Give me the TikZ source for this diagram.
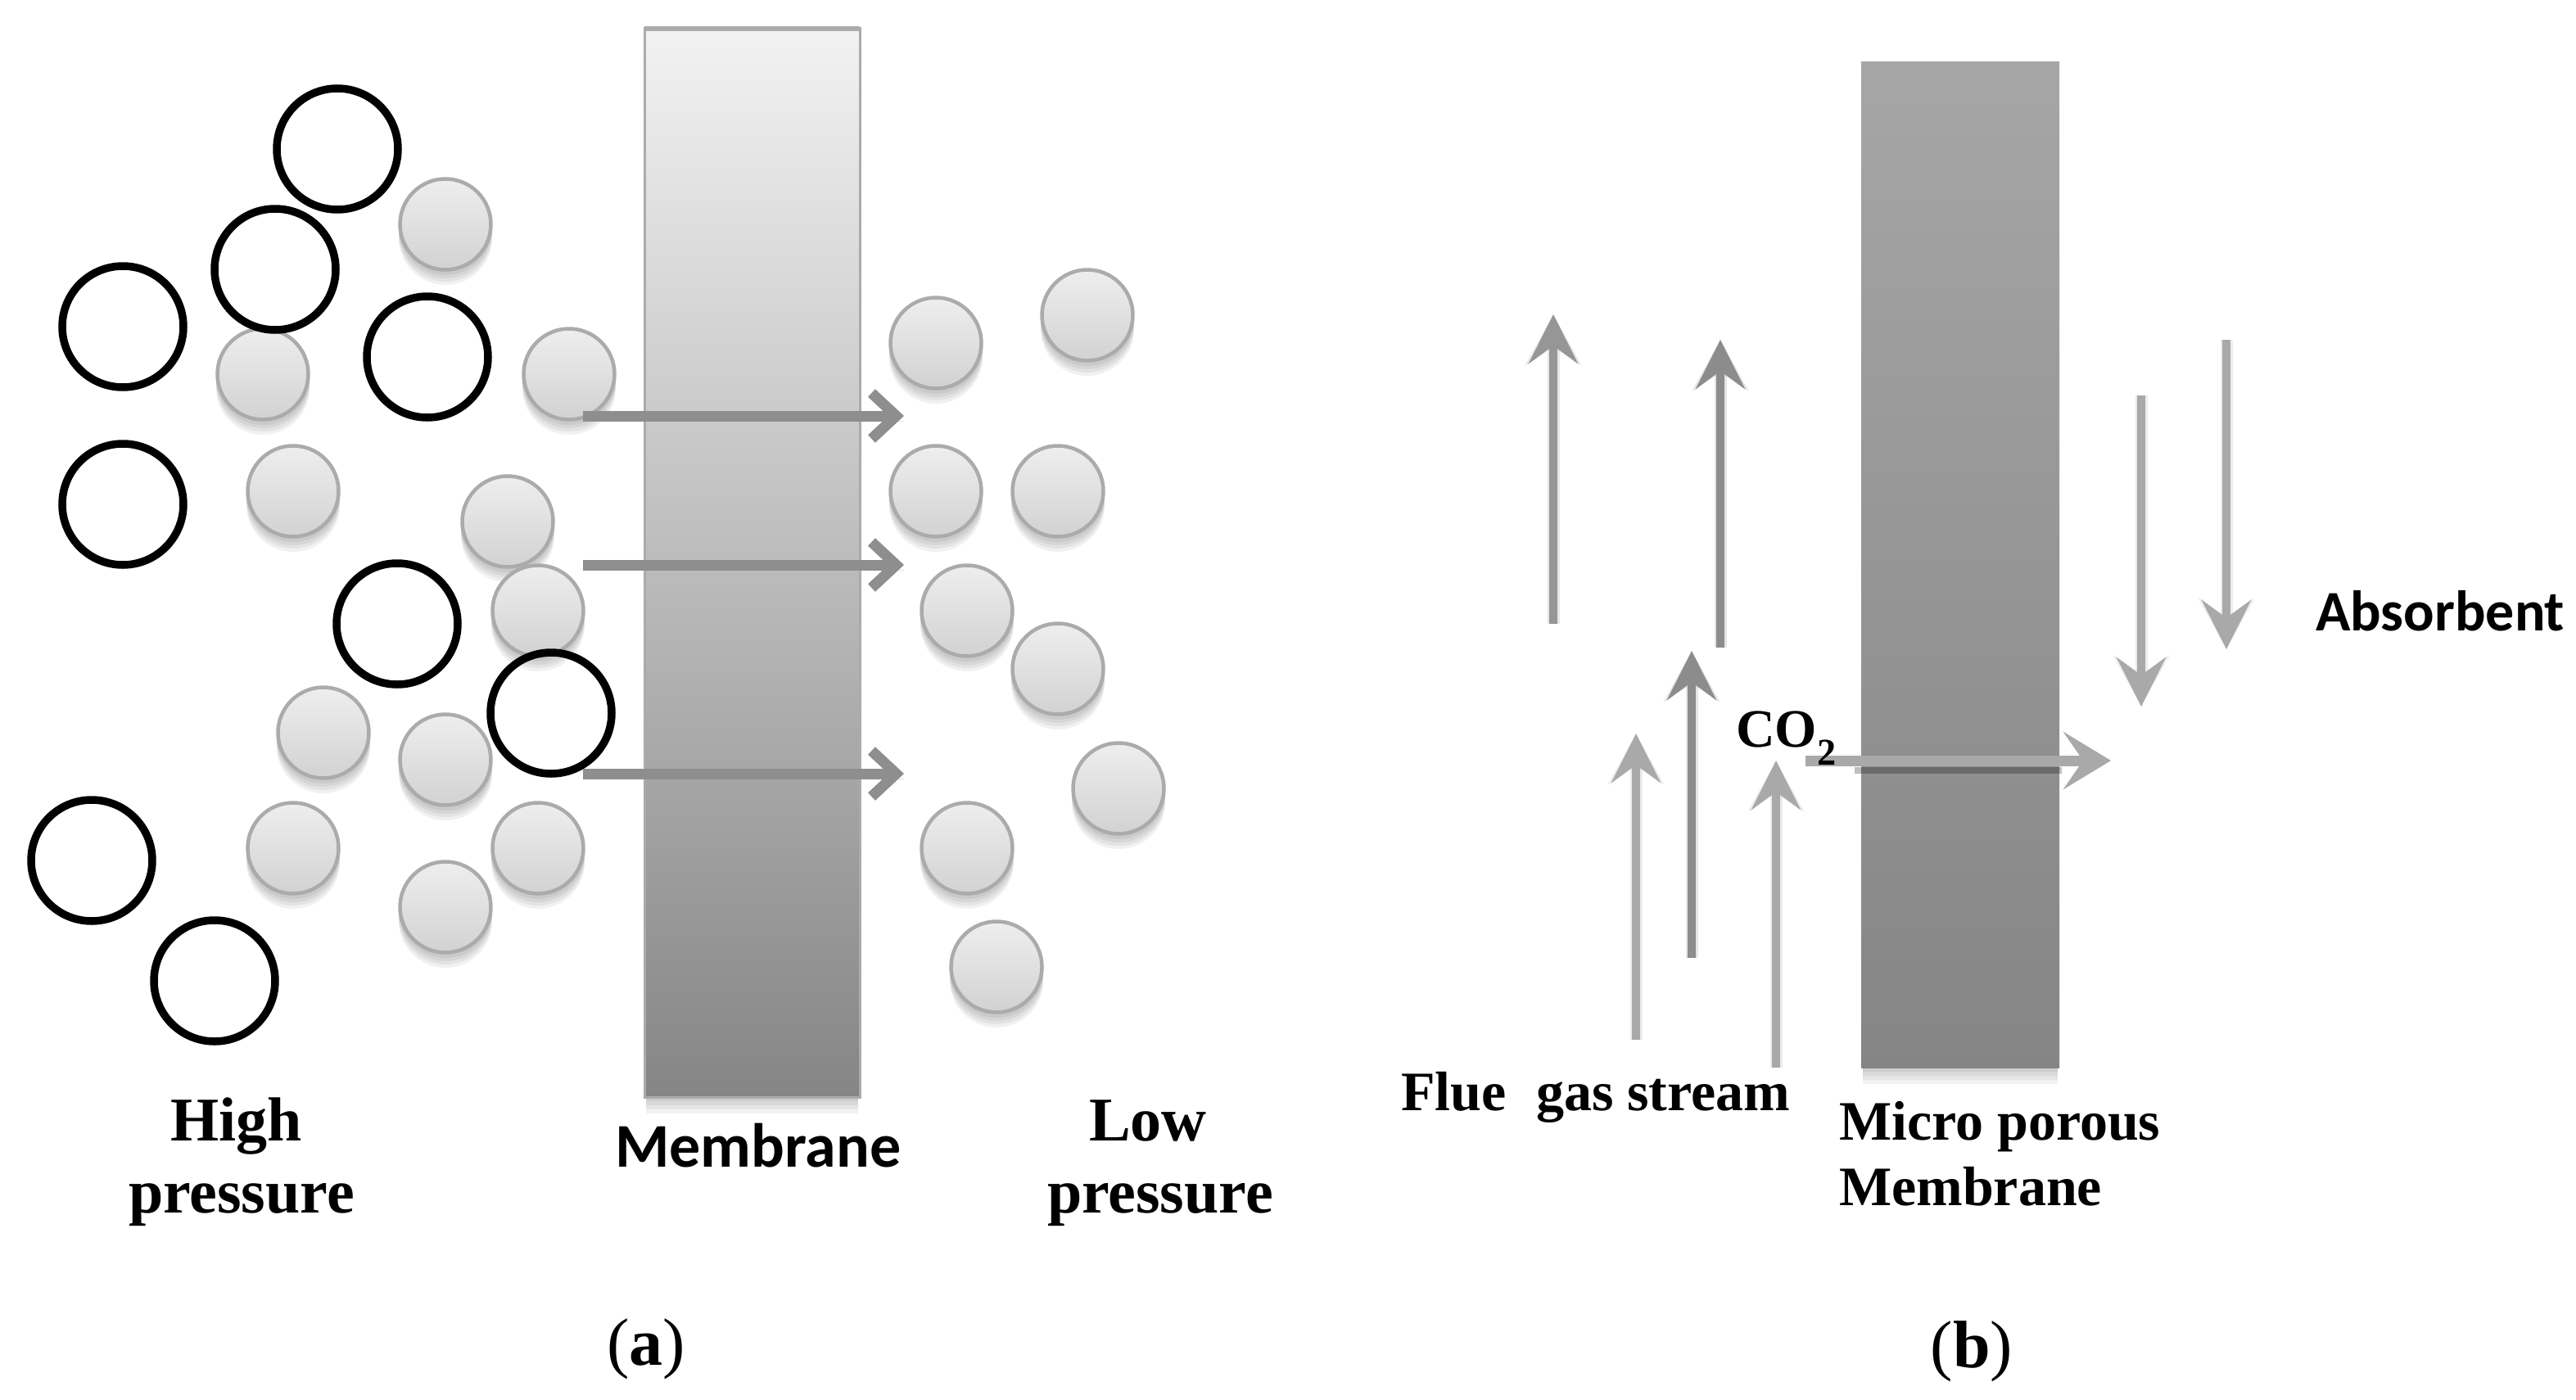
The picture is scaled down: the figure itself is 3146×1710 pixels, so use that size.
\documentclass[tikz,border=0pt]{standalone}
\usepackage{fontspec}
\setmainfont{Liberation Serif}
\newfontfamily\carl{Carlito}
\usetikzlibrary{arrows.meta}
\definecolor{arrA}{HTML}{8E8E8E}
\definecolor{arrB}{HTML}{969696}
\definecolor{arrC}{HTML}{8C8C8C}
\definecolor{arrD}{HTML}{A9A9A9}
\definecolor{ballTop}{HTML}{EEEEEE}
\definecolor{ballBot}{HTML}{D2D2D2}
\definecolor{ballEdge}{HTML}{ABABAB}
\definecolor{memTopA}{HTML}{F2F2F2}
\definecolor{memBotA}{HTML}{858585}
\definecolor{memTopB}{HTML}{A6A6A6}
\definecolor{memBotB}{HTML}{858585}
\tikzset{
  blackball/.style={circle,draw=black,line width=9.5pt,minimum size=148pt,inner sep=0pt,outer sep=0pt},
  greyball/.style={circle,draw=ballEdge,line width=4.5pt,top color=ballTop,bottom color=ballBot,minimum size=111pt,inner sep=0pt,outer sep=0pt},
  serifl/.style={anchor=base west,inner sep=0pt,outer sep=0pt,font=\fontsize{76}{76}\selectfont\bfseries},
  serifs/.style={anchor=base west,inner sep=0pt,outer sep=0pt,font=\fontsize{68}{68}\selectfont\bfseries},
  sansl/.style={anchor=base west,inner sep=0pt,outer sep=0pt},
  caption/.style={anchor=base,inner sep=0pt,outer sep=0pt,font=\fontsize{82}{82}\selectfont},
  chevron/.style={draw=arrA,line width=13pt,-{Straight Barb[length=30pt,width=56pt]},
    preaction={draw=black,opacity=.12,arrows=-,transform canvas={yshift=-6pt}}},
  flow/.style={line width=10pt,-{Stealth[length=60pt,width=60pt,inset=22pt]},
    preaction={draw=#1,opacity=.22,line width=15pt,-{Stealth[length=62pt,width=68pt,inset=22pt]}},draw=#1},
  co2arrow/.style={draw=arrD,line width=13pt,-{Stealth[length=58pt,width=70pt,inset=24pt]},
    preaction={draw=black,opacity=.25,arrows=-,line width=8pt,transform canvas={yshift=-12pt},shorten >=60pt,shorten <=60pt}},
}
\newcommand{\softball}[3]{%
  \foreach \dd in {5,9,13,17}{\fill[black,opacity=.055] (#2+3,#3+2+\dd) circle (57pt);}
  \node[greyball] (#1) at (#2+3,#3+2) {};
}
\begin{document}
\begin{tikzpicture}[x=1pt,y=-1pt]
\useasboundingbox (0,0) rectangle (3146,1710);
\fill[white] (0,0) rectangle (3146,1710);

% ---------- panel (a): membrane
\foreach \dd in {5,10,15,20}{\fill[black,opacity=.05] (789,1340) rectangle (1048,1340+\dd);}
\node[draw=ballEdge,line width=3pt,top color=memTopA,bottom color=memBotA,minimum width=263pt,minimum height=1305pt,
      inner sep=0pt,outer sep=0pt,anchor=north west] (memA) at (787,35) {};
\draw[ballEdge,line width=6pt] (memA.north west) -- (memA.north east);

% grey molecules left
\softball{g1}{541}{272}
\softball{g2}{318}{455}
\softball{g3}{692}{455}
\softball{g4}{355}{598}
\softball{g5}{617}{635}
\softball{g6}{654}{744}
\softball{g7}{392}{893}
\softball{g8}{541}{926}
\softball{g9}{355}{1034}
\softball{g10}{654}{1034}
\softball{g11}{541}{1106}
% grey molecules right
\softball{r1}{1140}{417}
\softball{r2}{1325}{383}
\softball{r3}{1140}{598}
\softball{r4}{1289}{598}
\softball{r5}{1178}{744}
\softball{r6}{1289}{815}
\softball{r7}{1363}{961}
\softball{r8}{1178}{1034}
\softball{r9}{1214}{1179}

% black molecules
\node[blackball] (b1) at (412,182) {};
\node[blackball] (b2) at (336,329) {};
\node[blackball] (b3) at (150,399) {};
\node[blackball] (b4) at (522,436) {};
\node[blackball] (b5) at (150,616) {};
\node[blackball] (b6) at (485,762) {};
\node[blackball] (b7) at (673,871) {};
\node[blackball] (b8) at (112,1051) {};
\node[blackball] (b9) at (262,1198) {};

% permeation arrows
\coordinate (a1s) at (712,508); \coordinate (a1e) at (1104,508);
\coordinate (a2s) at (712,690); \coordinate (a2e) at (1104,690);
\coordinate (a3s) at (712,945); \coordinate (a3e) at (1104,945);
\draw[chevron] (a1s) -- (a1e);
\draw[chevron] (a2s) -- (a2e);
\draw[chevron] (a3s) -- (a3e);

% labels (a)
\node[serifl] (high) at (208,1393) {High};
\node[serifl] (hp) at (157,1481) {pressure};
\node[sansl,font=\carl\fontsize{76}{76}\selectfont\bfseries] (memAlab) at (751,1425) {Membrane};
\node[serifl] (low) at (1330,1393) {Low};
\node[serifl] (lp) at (1279,1481) {pressure};
\node[caption] (capa) at (789,1667) {(\textbf{a})};

% ---------- panel (b): membrane
\foreach \dd in {5,10,15,20}{\fill[black,opacity=.05] (2275,1304) rectangle (2513,1304+\dd);}
\node[top color=memTopB,bottom color=memBotB,minimum width=242pt,minimum height=1228pt,
      inner sep=0pt,outer sep=0pt,anchor=north west] (memB) at (2273,76) {};

% stream arrows
\coordinate (f1s) at (1897,762);  \coordinate (f1e) at (1897,384);
\coordinate (f2s) at (2101,791);  \coordinate (f2e) at (2101,415);
\coordinate (f3s) at (2066,1170); \coordinate (f3e) at (2066,795);
\coordinate (f4s) at (1998,1270); \coordinate (f4e) at (1998,896);
\coordinate (f5s) at (2169,1304); \coordinate (f5e) at (2169,929);
\coordinate (d1s) at (2615,483);  \coordinate (d1e) at (2615,863);
\coordinate (d2s) at (2719,415);  \coordinate (d2e) at (2719,793);
\coordinate (cs) at (2205,929);   \coordinate (ce) at (2578,929);
\draw[flow=arrB] (f1s) -- (f1e);
\draw[flow=arrC] (f2s) -- (f2e);
\draw[flow=arrC] (f3s) -- (f3e);
\draw[flow=arrD] (f4s) -- (f4e);
\draw[flow=arrD] (f5s) -- (f5e);
\draw[flow=arrD] (d1s) -- (d1e);
\draw[flow=arrD] (d2s) -- (d2e);
\draw[co2arrow] (cs) -- (ce);

% labels (b)
\node[anchor=base west,inner sep=0pt,outer sep=0pt,font=\fontsize{66}{66}\selectfont\bfseries] (co2) at (2120,912) {CO\textsubscript{2}};
\node[serifs] (flue) at (1711,1356) {Flue};
\node[serifs] (gas) at (1876,1356) {gas stream};
\node[serifs] (micro) at (2246,1392) {Micro porous};
\node[serifs] (memBlab) at (2246,1472) {Membrane};
\node[sansl,font=\carl\fontsize{70}{70}\selectfont\bfseries] (abs) at (2828,770) {Absorbent};
\node[caption] (capb) at (2408,1670) {(\textbf{b})};
\end{tikzpicture}
\end{document}
